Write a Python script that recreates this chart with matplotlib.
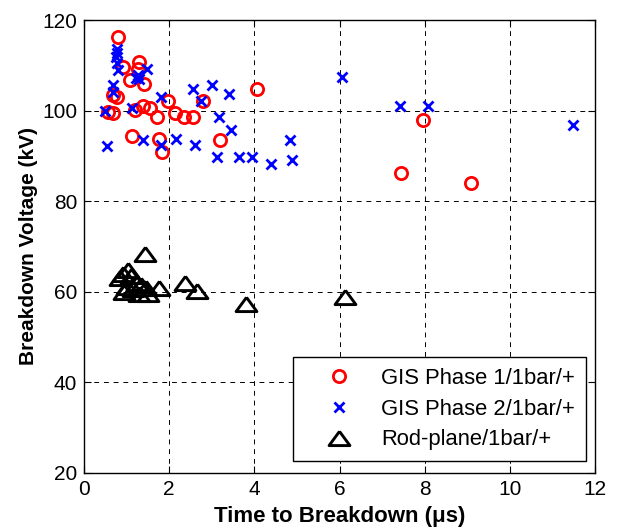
import matplotlib
matplotlib.use("Agg")
import matplotlib.pyplot as plt

plt.rcParams['font.family'] = ['Liberation Sans', 'DejaVu Sans']

# GIS Phase 1 (red circles)
p1_x = [0.81, 0.92, 1.28, 1.26, 1.07, 1.41, 0.77, 0.67, 0.57, 0.69, 1.20, 1.38, 1.55,
        1.71, 1.98, 2.14, 2.34, 2.55, 2.80, 1.12, 1.75, 1.83, 3.20, 4.07, 7.97, 7.45, 9.09]
p1_y = [116.2, 109.7, 110.8, 109.3, 106.8, 105.8, 103.1, 103.5, 99.8, 99.4, 100.2, 101.0, 100.7,
        98.5, 102.1, 99.4, 98.6, 98.6, 102.1, 94.3, 93.7, 90.9, 93.5, 104.8, 97.9, 86.3, 84.1]

# GIS Phase 2 (blue crosses)
p2_x = [0.77, 0.77, 0.75, 0.77, 0.79, 0.69, 0.67, 0.49, 0.53, 1.22, 1.30, 1.26, 1.47, 1.12,
        1.81, 1.38, 1.81, 2.16, 2.61, 2.57, 3.00, 3.41, 2.74, 3.17, 3.45, 3.13, 3.63, 3.94,
        4.39, 4.84, 4.88, 6.06, 7.41, 8.09, 11.49]
p2_y = [113.6, 112.7, 111.8, 110.5, 109.0, 105.7, 104.2, 100.0, 92.2, 107.2, 107.0, 107.8, 109.2, 100.5,
        103.0, 93.5, 92.4, 93.7, 92.4, 104.7, 105.6, 103.7, 102.1, 98.7, 95.7, 89.8, 89.8, 89.8,
        88.2, 93.5, 89.0, 107.4, 101.0, 101.0, 96.8]

# Rod-plane (black triangles)
rp_x = [1.43, 1.04, 0.92, 0.85, 1.10, 1.25, 1.35, 1.45, 1.00, 0.95, 1.15, 1.30, 1.50,
        1.75, 2.37, 2.65, 3.80, 6.13]
rp_y = [68.3, 64.8, 64.0, 63.0, 63.5, 62.0, 61.5, 60.8, 61.0, 60.0, 60.5, 59.5, 59.5,
        60.75, 62.0, 60.2, 57.3, 58.9]

labels = ['GIS Phase 1/1bar/+', 'GIS Phase 2/1bar/+', 'Rod-plane/1bar/+']
xticks = [0, 2, 4, 6, 8, 10, 12]
yticks = [20, 40, 60, 80, 100, 120]

fig = plt.figure(figsize=(6.19, 5.31), dpi=100)
ax = fig.add_axes([84/619, 1-472.7/531, 511/619, 452.5/531])

tri = [(0, 0.68), (-1, -0.68), (1, -0.68), (0, 0.68)]

ax.plot(p1_x, p1_y, linestyle='none', marker='o', markersize=8.8, markerfacecolor='none',
        markeredgecolor='#ff0000', markeredgewidth=2.0, label=labels[0], zorder=3)
ax.plot(p2_x, p2_y, linestyle='none', marker='x', markersize=6.8,
        markeredgecolor='#0000ff', markeredgewidth=2.0, label=labels[1], zorder=3)
ax.plot(rp_x, rp_y, linestyle='none', marker=tri, markersize=15, markerfacecolor='none',
        markeredgecolor='black', markeredgewidth=2.1, label=labels[2], zorder=3)

ax.set_xlim(0, 12)
ax.set_ylim(20, 120)
ax.set_xticks(xticks)
ax.set_yticks(yticks)
ax.grid(True, color='black', linestyle=(0, (5, 5)), linewidth=0.7)
ax.tick_params(direction='in', top=True, right=True, length=5, width=0.8,
               labelsize=15, pad=5)
for s in ax.spines.values():
    s.set_linewidth(1.0)

ax.set_xlabel('Time to Breakdown (μs)', fontsize=16, fontweight='bold', labelpad=5)
ax.set_ylabel('Breakdown Voltage (kV)', fontsize=15, fontweight='bold', labelpad=3)

leg = ax.legend(loc='lower right', bbox_to_anchor=(0.982, 0.026), borderaxespad=0,
                fontsize=15.8, frameon=True, fancybox=False, edgecolor='black',
                framealpha=1, handlelength=3.3, handletextpad=0.26, borderpad=0.48,
                labelspacing=0.45, markerscale=1.0)
leg.get_frame().set_linewidth(1.0)

fig.savefig('out.png', dpi=100)
